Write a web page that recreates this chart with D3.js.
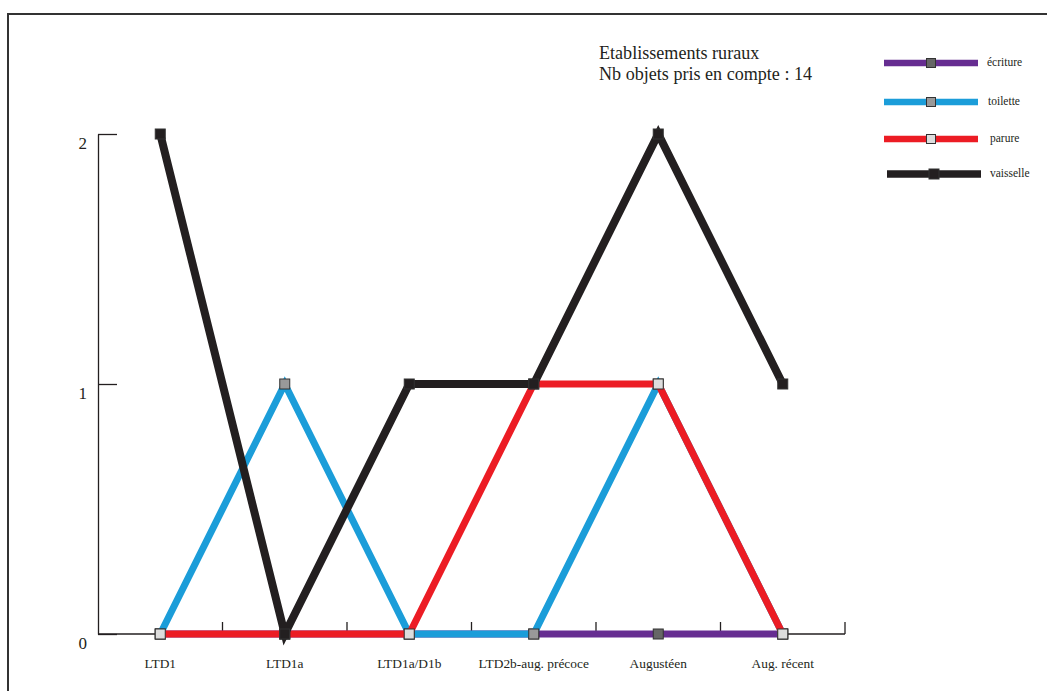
<!DOCTYPE html>
<html><head><meta charset="utf-8">
<script src="https://cdn.jsdelivr.net/npm/d3@7"></script>
<style>body{margin:0;background:#fff}svg{display:block}</style>
</head><body>
<svg id="c" width="1047" height="691"></svg>
<script>
const categories = ["LTD1", "LTD1a", "LTD1a/D1b", "LTD2b-aug. précoce", "Augustéen", "Aug. récent"];
const ecriture  = [0, 0, 0, 0, 0, 0];
const toilette  = [0, 1, 0, 0, 1, 0];
const parure    = [0, 0, 0, 1, 1, 0];
const vaisselle = [2, 0, 1, 1, 2, 1];
const yTicks = [0, 1, 2];
const seriesNames = ["écriture", "toilette", "parure", "vaisselle"];
const titleLines = ["Etablissements ruraux", "Nb objets pris en compte : 14"];

const series = [
  {name: seriesNames[0], values: ecriture,  color: "#662d91", marker: "#666666", width: 7},
  {name: seriesNames[1], values: toilette,  color: "#1b9dd9", marker: "#999999", width: 7},
  {name: seriesNames[2], values: parure,    color: "#ec1c24", marker: "#dddddd", width: 7},
  {name: seriesNames[3], values: vaisselle, color: "#231f20", marker: "#231f20", width: 8}
];

const svg = d3.select("#c");
const serif = "'Liberation Serif', 'Times New Roman', serif";
const axisColor = "#231f20";

// frame (only top and left edges visible)
svg.append("rect").attr("x", 8).attr("y", 14).attr("width", 1200).attr("height", 800)
  .attr("fill", "none").attr("stroke", "#333").attr("stroke-width", 2);

const x = d3.scaleBand().domain(categories).range([98, 845]).paddingInner(0).paddingOuter(0);
const y = d3.scaleLinear().domain([0, 2]).range([634, 134]);
const cx = c => x(c) + x.bandwidth() / 2;

// y axis
const yAxis = svg.append("g").attr("transform", "translate(98,0)")
  .call(d3.axisLeft(y).tickValues(yTicks).tickFormat(d3.format("d")).tickSize(-19).tickSizeOuter(0).tickPadding(11));
yAxis.select(".domain").attr("stroke", axisColor).attr("stroke-width", 1.3);
yAxis.selectAll(".tick line").attr("stroke", axisColor).attr("stroke-width", 1.3);
yAxis.selectAll(".tick text").attr("dy", 14).attr("font-family", serif).attr("font-size", 17).attr("fill", "#231f20");

// x axis baseline
svg.append("line").attr("x1", 98).attr("x2", 845).attr("y1", y(0)).attr("y2", y(0))
  .attr("stroke", axisColor).attr("stroke-width", 1.3);
// boundary ticks pointing up
svg.append("g").selectAll("line").data(categories).join("line")
  .attr("x1", d => x(d) + x.step()).attr("x2", d => x(d) + x.step())
  .attr("y1", y(0)).attr("y2", y(0) - 12)
  .attr("stroke", axisColor).attr("stroke-width", 1.3);
// x labels
const xAxis = svg.append("g").attr("transform", `translate(0,${y(0)})`)
  .call(d3.axisBottom(x).tickSize(0).tickPadding(0));
xAxis.select(".domain").remove();
xAxis.selectAll(".tick text").attr("y", 34).attr("dy", 0)
  .attr("font-family", serif).attr("font-size", 13.4).attr("fill", "#231f20");

// series
const line = d3.line().x((d, i) => cx(categories[i])).y(d => y(d));
series.forEach(s => {
  const g = svg.append("g");
  g.append("path").datum(s.values).attr("d", line).attr("fill", "none")
    .attr("stroke", s.color).attr("stroke-width", s.width)
    .attr("stroke-linejoin", "miter").attr("stroke-miterlimit", 4);
  g.selectAll("rect").data(s.values).join("rect")
    .attr("x", (d, i) => cx(categories[i]) - 5).attr("y", d => y(d) - 5)
    .attr("width", 10).attr("height", 10)
    .attr("fill", s.marker).attr("stroke", "#333").attr("stroke-width", 1);
});

// title
svg.append("g").selectAll("text").data(titleLines).join("text")
  .attr("x", 599).attr("y", (d, i) => 59 + i * 21)
  .attr("font-family", serif).attr("font-size", 18.1).attr("fill", "#231f20")
  .text(d => d);

// legend
const legY = [63, 102, 139, 174];
const leg = svg.append("g").selectAll("g").data(series).join("g");
leg.append("line")
  .attr("x1", (d, i) => i === 3 ? 887 : 884).attr("x2", (d, i) => i === 3 ? 981 : 978)
  .attr("y1", (d, i) => legY[i]).attr("y2", (d, i) => legY[i])
  .attr("stroke", d => d.color).attr("stroke-width", (d, i) => i === 3 ? 7.5 : 6.5);
leg.append("rect")
  .attr("x", (d, i) => (i === 3 ? 934 : 931) - (i === 3 ? 5 : 4.5)).attr("y", (d, i) => legY[i] - (i === 3 ? 5 : 4.5))
  .attr("width", (d, i) => i === 3 ? 10 : 9).attr("height", (d, i) => i === 3 ? 10 : 9)
  .attr("fill", d => d.marker).attr("stroke", "#333").attr("stroke-width", 1);
leg.append("text")
  .attr("x", (d, i) => [987, 988, 990, 990][i]).attr("y", (d, i) => legY[i] + 3)
  .attr("font-family", serif).attr("font-size", 11.5).attr("fill", "#231f20")
  .text(d => d.name);
</script>
</body></html>
